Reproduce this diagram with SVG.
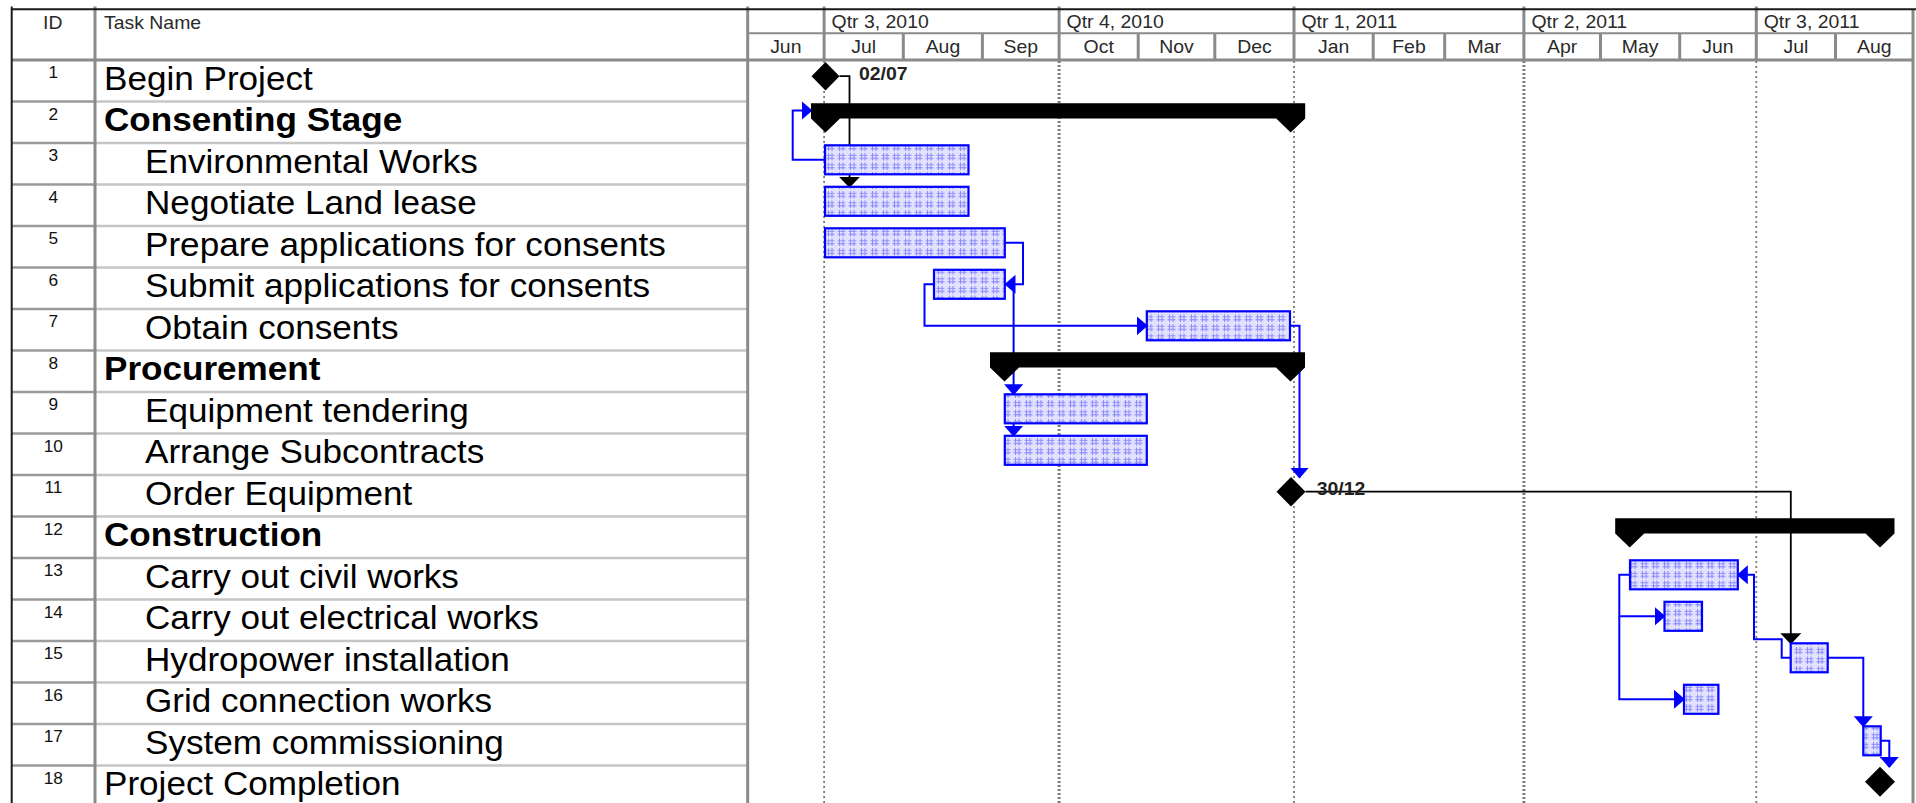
<svg xmlns="http://www.w3.org/2000/svg" width="1916" height="803" viewBox="0 0 1916 803">
<style>
.bg{fill:#ffffff}
.hdr{font-family:"Liberation Sans",Arial,sans-serif;font-size:18px;fill:#2a2a2a}
.mid{text-anchor:middle}
.idn{font-family:"Liberation Sans",Arial,sans-serif;font-size:16px;fill:#111;text-anchor:middle}
.nm{font-family:"Liberation Sans",Arial,sans-serif;font-size:32.5px;fill:#000}
.b{font-weight:bold}
.ms{font-family:"Liberation Sans",Arial,sans-serif;font-size:18px;font-weight:bold;fill:#222}
.bar{fill:url(#hatch);stroke:#0000ff;stroke-width:2.2}
.sum{fill:#000}
.dia{fill:#000}
.gridH{stroke:#8a8a8a;stroke-width:3;fill:none}
.gridT{stroke:#8a8a8a;stroke-width:2;fill:none}
.rowT{stroke:#c6c6c6;stroke-width:2.5;fill:none}
.rowI{stroke:#9a9a9a;stroke-width:2.5;fill:none}
.edge{stroke:#1a1a1a;stroke-width:2;fill:none}
.q1{stroke:#7a7a7a;stroke-width:1.8;stroke-dasharray:2 3;fill:none}
.q2{stroke:#7a7a7a;stroke-width:3;stroke-dasharray:2 2;fill:none}
.lb{stroke:#0000ff;stroke-width:2;fill:none;marker-end:url(#ab)}
.lk{stroke:#000;stroke-width:1.8;fill:none;marker-end:url(#ak)}
</style>
<defs>
<pattern id="hatch" patternUnits="userSpaceOnUse" width="11" height="9.5">
<rect width="11" height="9.5" fill="#e2e2ff"/>
<path d="M3.5,1 V8.5 M7,1 V8.5 M1.5,3.3 H9.5 M1.5,6.3 H9.5" stroke="#8c8cff" stroke-width="1"/>
</pattern>
<marker id="ab" viewBox="0 0 11 19" refX="10" refY="9.5" markerWidth="11" markerHeight="19" orient="auto" markerUnits="userSpaceOnUse">
<path d="M0,0 L11,9.5 L0,19 z" fill="#0000ff"/>
</marker>
<marker id="ak" viewBox="0 0 11 21" refX="10" refY="10.5" markerWidth="11" markerHeight="21" orient="auto" markerUnits="userSpaceOnUse">
<path d="M0,0 L11,10.5 L0,21 z" fill="#000"/>
</marker>
</defs>
<rect class="bg" x="0" y="0" width="1916" height="803"/>

<g id="grid">
<path class="q1" d="M824.1,61 V803"/>
<path class="q2" d="M1059.1,61 V803"/>
<path class="q1" d="M1294,61 V803"/>
<path class="q2" d="M1523.9,61 V803"/>
<path class="q1" d="M1756.3,61 V803"/>
<path class="rowT" d="M95,101.5 H747.7 M95,143 H747.7 M95,184.5 H747.7 M95,226 H747.7 M95,267.5 H747.7 M95,309 H747.7 M95,350.5 H747.7 M95,392 H747.7 M95,433.5 H747.7 M95,475 H747.7 M95,516.5 H747.7 M95,558 H747.7 M95,599.5 H747.7 M95,641 H747.7 M95,682.5 H747.7 M95,724 H747.7 M95,765.5 H747.7"/>
<path class="rowI" d="M11.7,101.5 H95 M11.7,143 H95 M11.7,184.5 H95 M11.7,226 H95 M11.7,267.5 H95 M11.7,309 H95 M11.7,350.5 H95 M11.7,392 H95 M11.7,433.5 H95 M11.7,475 H95 M11.7,516.5 H95 M11.7,558 H95 M11.7,599.5 H95 M11.7,641 H95 M11.7,682.5 H95 M11.7,724 H95 M11.7,765.5 H95"/>
<path class="gridT" d="M747.7,33.3 H1913"/>
<path class="gridH" d="M11.7,60 H1913"/>
<path class="gridH" d="M95,6.5 V803 M747.7,6.5 V803 M1913,9 V803"/>
<path class="gridH" d="M824.1,6.5 V60 M1059.1,6.5 V60 M1294,6.5 V60 M1523.9,6.5 V60 M1756.3,6.5 V60"/>
<path class="gridH" d="M903.3,33.3 V60 M982.4,33.3 V60 M1138.2,33.3 V60 M1214.8,33.3 V60 M1373.2,33.3 V60 M1444.7,33.3 V60 M1600.5,33.3 V60 M1679.7,33.3 V60 M1835.5,33.3 V60"/>
<path class="edge" d="M11.7,9.3 H1916 M11.7,6.5 V803"/>
</g>

<g id="header">
<text class="hdr mid" transform="scale(1.08 1)" x="48.8" y="29">ID</text>
<text class="hdr" transform="scale(1.08 1)" x="96.3" y="29">Task Name</text>
<text class="hdr" transform="scale(1.08 1)" x="770" y="28.3">Qtr 3, 2010</text>
<text class="hdr" transform="scale(1.08 1)" x="987.6" y="28.3">Qtr 4, 2010</text>
<text class="hdr" transform="scale(1.08 1)" x="1205.1" y="28.3">Qtr 1, 2011</text>
<text class="hdr" transform="scale(1.08 1)" x="1418" y="28.3">Qtr 2, 2011</text>
<text class="hdr" transform="scale(1.08 1)" x="1633.1" y="28.3">Qtr 3, 2011</text>
<text class="hdr mid" transform="scale(1.08 1)" x="727.6" y="53.3">Jun</text>
<text class="hdr mid" transform="scale(1.08 1)" x="799.7" y="53.3">Jul</text>
<text class="hdr mid" transform="scale(1.08 1)" x="873.1" y="53.3">Aug</text>
<text class="hdr mid" transform="scale(1.08 1)" x="945.2" y="53.3">Sep</text>
<text class="hdr mid" transform="scale(1.08 1)" x="1017.3" y="53.3">Oct</text>
<text class="hdr mid" transform="scale(1.08 1)" x="1089.4" y="53.3">Nov</text>
<text class="hdr mid" transform="scale(1.08 1)" x="1161.5" y="53.3">Dec</text>
<text class="hdr mid" transform="scale(1.08 1)" x="1234.8" y="53.3">Jan</text>
<text class="hdr mid" transform="scale(1.08 1)" x="1304.6" y="53.3">Feb</text>
<text class="hdr mid" transform="scale(1.08 1)" x="1374.4" y="53.3">Mar</text>
<text class="hdr mid" transform="scale(1.08 1)" x="1446.5" y="53.3">Apr</text>
<text class="hdr mid" transform="scale(1.08 1)" x="1518.6" y="53.3">May</text>
<text class="hdr mid" transform="scale(1.08 1)" x="1590.7" y="53.3">Jun</text>
<text class="hdr mid" transform="scale(1.08 1)" x="1662.9" y="53.3">Jul</text>
<text class="hdr mid" transform="scale(1.08 1)" x="1735.5" y="53.3">Aug</text>
</g>

<g id="connectors">
<path class="lk" d="M839.5,76.2 H849.5 V186.8"/>
<path class="lb" d="M825,159.8 H792.7 V110.5 H811.5"/>
<path class="lb" d="M1004.8,242.8 H1023 V284.3 H1005.5"/>
<path class="lb" d="M934,284.3 H924.5 V325.8 H1146.8"/>
<path class="lb" d="M1004.8,284.3 H1013.6 V394.3"/>
<path class="lb" d="M1013.6,394.3 V435.8"/>
<path class="lb" d="M1290,325.8 H1299.5 V477.5"/>
<path class="lk" d="M1305.5,491.7 H1790.8 V643.3"/>
<path class="lb" d="M1630,574.8 H1619.3 V616.3 H1664.5"/>
<path class="lb" d="M1619.3,616.3 V699.3 H1684"/>
<path class="lb" d="M1790.7,657.8 H1781.7 V639.3 H1754 V574.8 H1737.8"/>
<path class="lb" d="M1827.7,657.8 H1863.3 V726.3"/>
<path class="lb" d="M1880.7,740.8 H1889.3 V767"/>
</g>

<g id="task1">
<text class="idn" transform="scale(1.08 1)" x="49.4" y="78.5">1</text>
<text class="nm" transform="scale(1.08 1)" x="96.3" y="90">Begin Project</text>
<polygon class="dia" points="825.5,62 839.5,76.2 825.5,90.5 811.5,76.2"/>
<text class="ms" transform="scale(1.08 1)" x="795.4" y="80">02/07</text>
</g>
<g id="task2">
<text class="idn" transform="scale(1.08 1)" x="49.4" y="120">2</text>
<text class="nm b" transform="scale(1.08 1)" x="96.3" y="131.5">Consenting Stage</text>
<path class="sum" d="M811,103.3 H1305.2 V118.5 L1290.7,132.5 L1276.2,118.5 H840 L825.5,132.5 L811,118.5 Z"/>
</g>
<g id="task3">
<text class="idn" transform="scale(1.08 1)" x="49.4" y="161.5">3</text>
<text class="nm" transform="scale(1.08 1)" x="134.3" y="173">Environmental Works</text>
<rect class="bar" x="825" y="145.3" width="143.5" height="29"/>
</g>
<g id="task4">
<text class="idn" transform="scale(1.08 1)" x="49.4" y="203">4</text>
<text class="nm" transform="scale(1.08 1)" x="134.3" y="214.5">Negotiate Land lease</text>
<rect class="bar" x="825" y="186.8" width="143.5" height="29"/>
</g>
<g id="task5">
<text class="idn" transform="scale(1.08 1)" x="49.4" y="244.5">5</text>
<text class="nm" transform="scale(1.08 1)" x="134.3" y="256">Prepare applications for consents</text>
<rect class="bar" x="825" y="228.3" width="179.8" height="29"/>
</g>
<g id="task6">
<text class="idn" transform="scale(1.08 1)" x="49.4" y="286">6</text>
<text class="nm" transform="scale(1.08 1)" x="134.3" y="297.5">Submit applications for consents</text>
<rect class="bar" x="934" y="269.8" width="70.8" height="29"/>
</g>
<g id="task7">
<text class="idn" transform="scale(1.08 1)" x="49.4" y="327.5">7</text>
<text class="nm" transform="scale(1.08 1)" x="134.3" y="339">Obtain consents</text>
<rect class="bar" x="1146.8" y="311.3" width="143.2" height="29"/>
</g>
<g id="task8">
<text class="idn" transform="scale(1.08 1)" x="49.4" y="369">8</text>
<text class="nm b" transform="scale(1.08 1)" x="96.3" y="380.5">Procurement</text>
<path class="sum" d="M990,352.3 H1305 V367.5 L1290.5,381.5 L1276,367.5 H1019 L1004.5,381.5 L990,367.5 Z"/>
</g>
<g id="task9">
<text class="idn" transform="scale(1.08 1)" x="49.4" y="410.5">9</text>
<text class="nm" transform="scale(1.08 1)" x="134.3" y="422">Equipment tendering</text>
<rect class="bar" x="1004.8" y="394.3" width="142" height="29"/>
</g>
<g id="task10">
<text class="idn" transform="scale(1.08 1)" x="49.4" y="452">10</text>
<text class="nm" transform="scale(1.08 1)" x="134.3" y="463.5">Arrange Subcontracts</text>
<rect class="bar" x="1004.8" y="435.8" width="142" height="29"/>
</g>
<g id="task11">
<text class="idn" transform="scale(1.08 1)" x="49.4" y="493.5">11</text>
<text class="nm" transform="scale(1.08 1)" x="134.3" y="505">Order Equipment</text>
<polygon class="dia" points="1291,477 1305.5,491.7 1291,506.5 1276.5,491.7"/>
<text class="ms" transform="scale(1.08 1)" x="1219.2" y="495">30/12</text>
</g>
<g id="task12">
<text class="idn" transform="scale(1.08 1)" x="49.4" y="535">12</text>
<text class="nm b" transform="scale(1.08 1)" x="96.3" y="546.5">Construction</text>
<path class="sum" d="M1615.2,518.3 H1894.5 V533.5 L1880,547.5 L1865.5,533.5 H1644.2 L1629.7,547.5 L1615.2,533.5 Z"/>
</g>
<g id="task13">
<text class="idn" transform="scale(1.08 1)" x="49.4" y="576.5">13</text>
<text class="nm" transform="scale(1.08 1)" x="134.3" y="588">Carry out civil works</text>
<rect class="bar" x="1630" y="560.3" width="107.8" height="29"/>
</g>
<g id="task14">
<text class="idn" transform="scale(1.08 1)" x="49.4" y="618">14</text>
<text class="nm" transform="scale(1.08 1)" x="134.3" y="629.5">Carry out electrical works</text>
<rect class="bar" x="1664.5" y="601.8" width="37.5" height="29"/>
</g>
<g id="task15">
<text class="idn" transform="scale(1.08 1)" x="49.4" y="659.5">15</text>
<text class="nm" transform="scale(1.08 1)" x="134.3" y="671">Hydropower installation</text>
<rect class="bar" x="1790.7" y="643.3" width="37" height="29"/>
</g>
<g id="task16">
<text class="idn" transform="scale(1.08 1)" x="49.4" y="701">16</text>
<text class="nm" transform="scale(1.08 1)" x="134.3" y="712.5">Grid connection works</text>
<rect class="bar" x="1684" y="684.8" width="34.4" height="29"/>
</g>
<g id="task17">
<text class="idn" transform="scale(1.08 1)" x="49.4" y="742.5">17</text>
<text class="nm" transform="scale(1.08 1)" x="134.3" y="754">System commissioning</text>
<rect class="bar" x="1863.3" y="726.3" width="17.4" height="29"/>
</g>
<g id="task18">
<text class="idn" transform="scale(1.08 1)" x="49.4" y="784">18</text>
<text class="nm" transform="scale(1.08 1)" x="96.3" y="795.5">Project Completion</text>
<polygon class="dia" points="1880,766.7 1895,781.7 1880,796.7 1865,781.7"/>
</g>
</svg>
